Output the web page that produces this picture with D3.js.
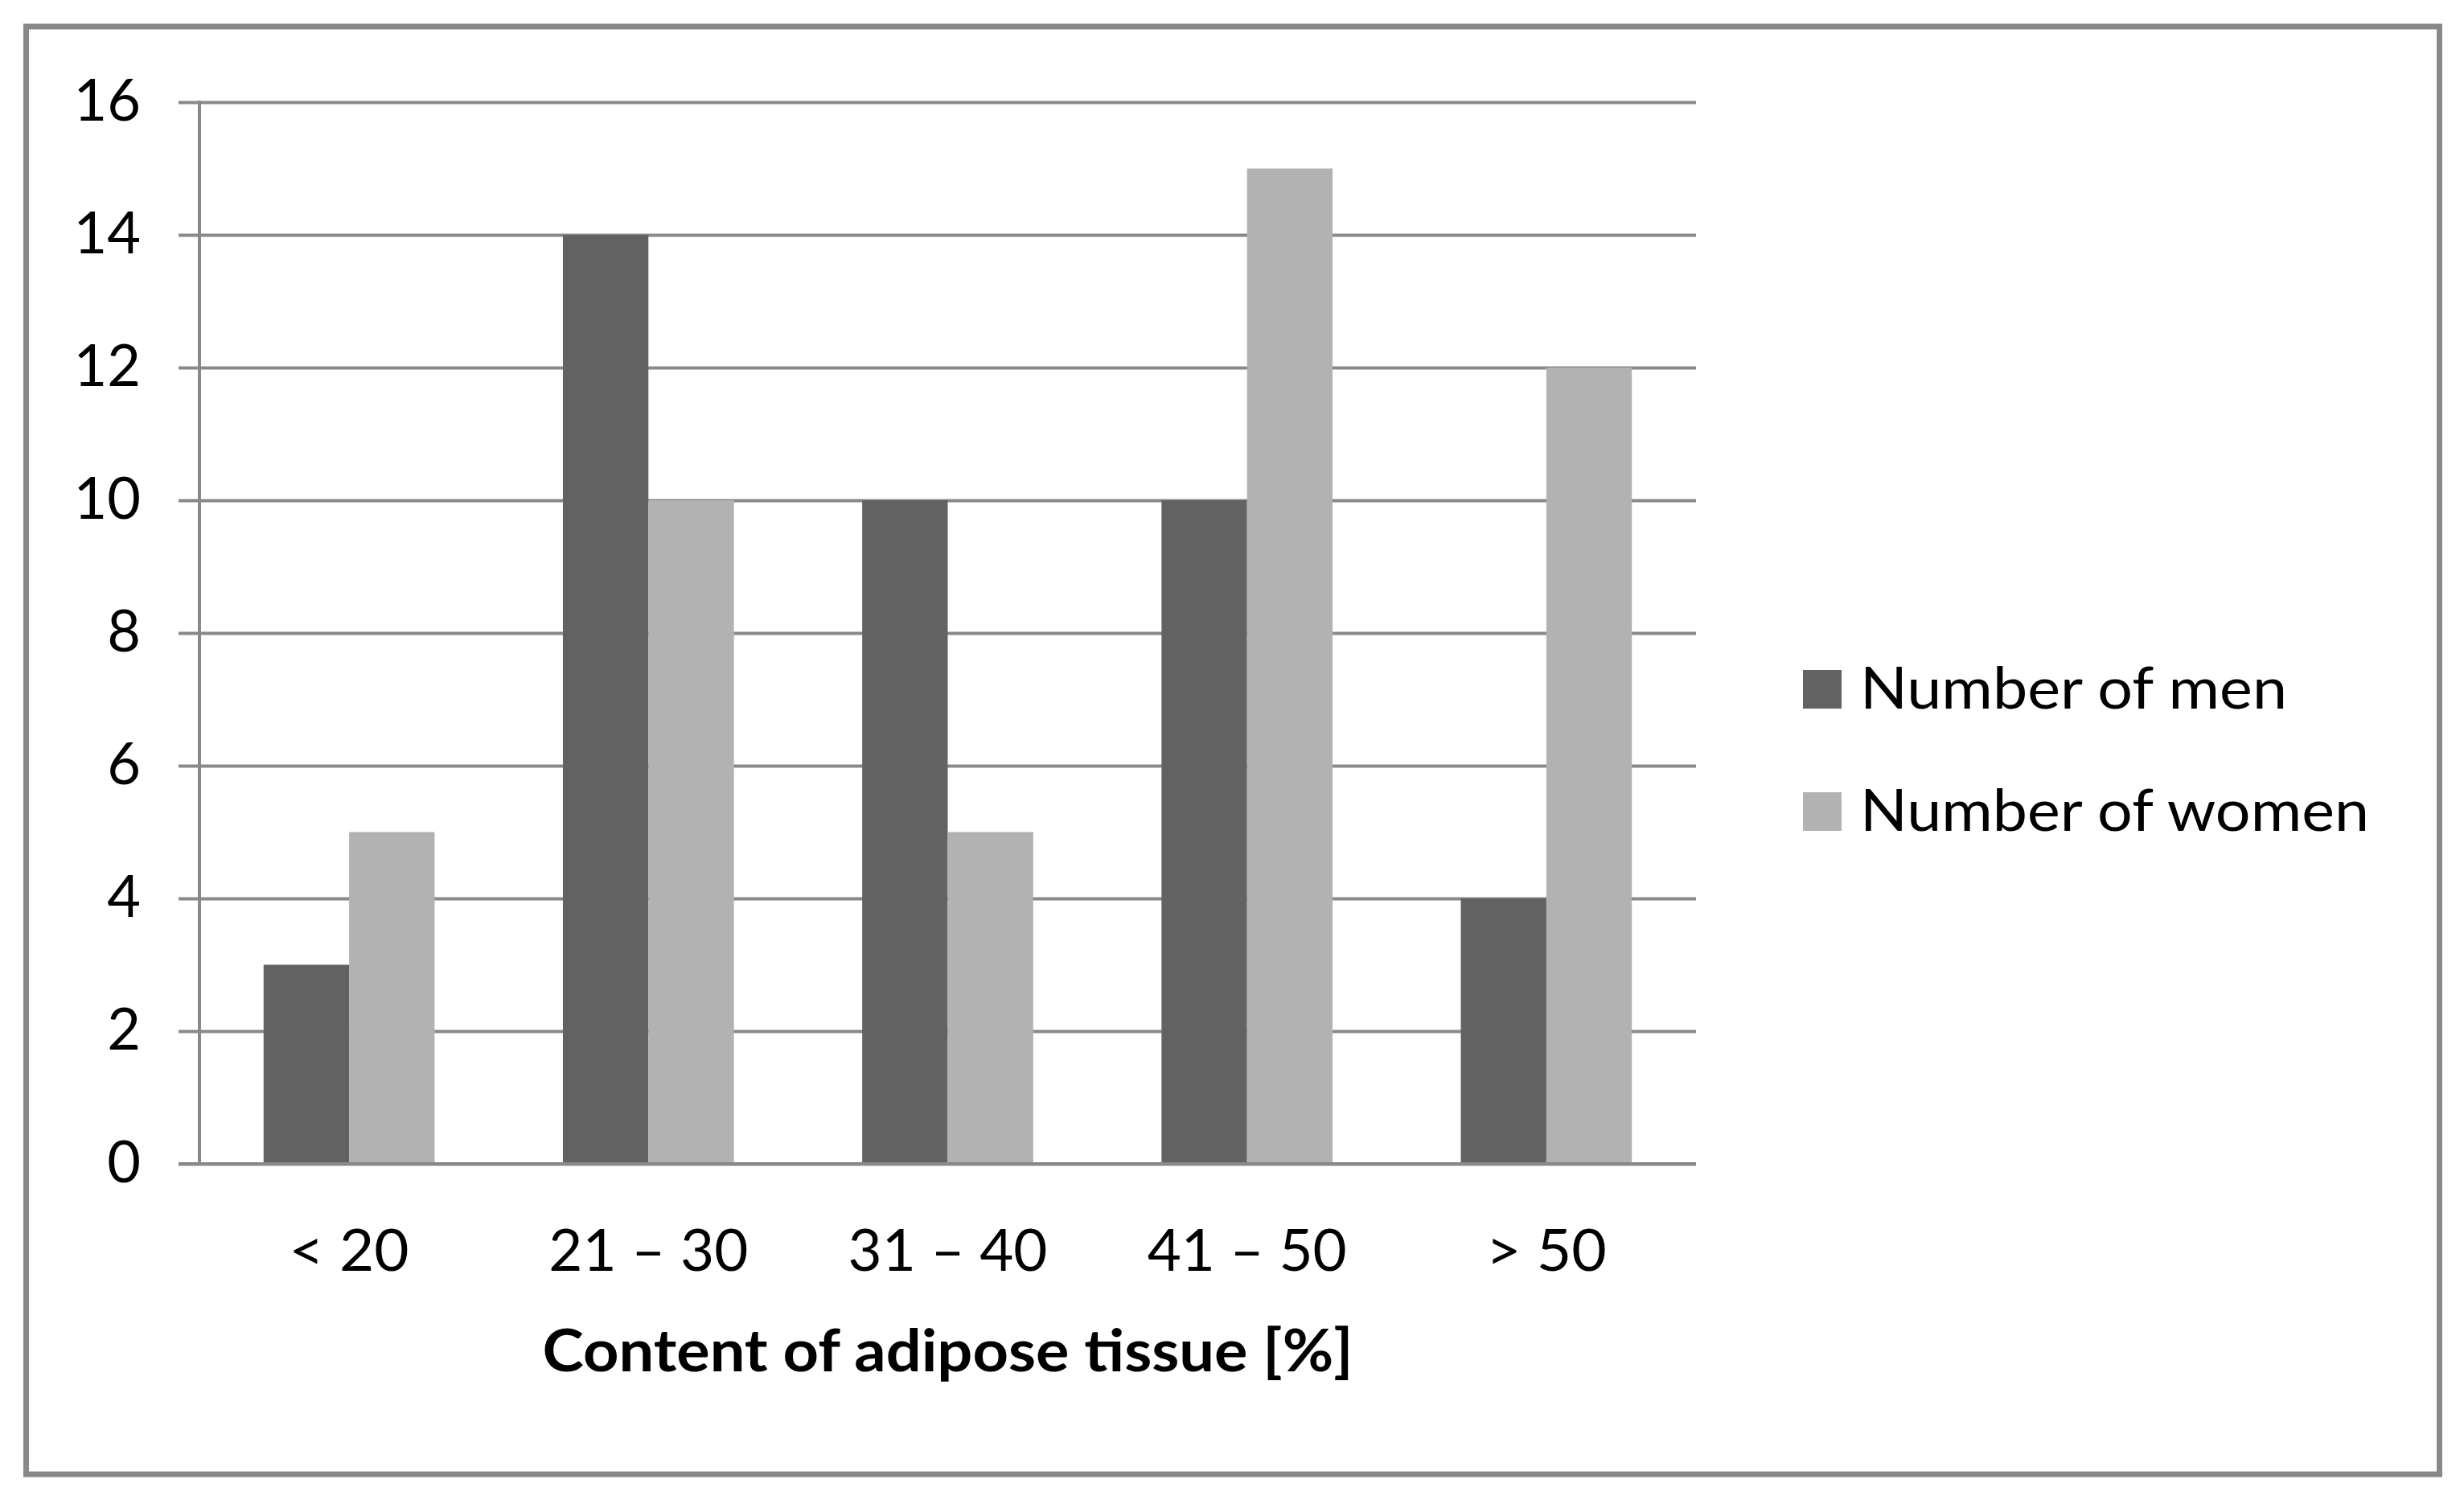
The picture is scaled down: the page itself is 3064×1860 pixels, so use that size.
<!DOCTYPE html>
<html>
<head>
<meta charset="utf-8">
<script src="https://cdn.jsdelivr.net/npm/d3@7"></script>
<style>
  html, body { margin: 0; padding: 0; background: #ffffff; }
  svg { display: block; }
  text { font-family: Lato, "Open Sans", "Noto Sans", sans-serif; fill: #000; }
</style>
</head>
<body>
<svg id="chart" width="3064" height="1860"></svg>
<script>
// ---- data ----
const categories = ["< 20", "21 – 30", "31 – 40", "41 – 50", "> 50"];
const seriesNames = ["Number of men", "Number of women"];
const menValues = [3, 14, 10, 10, 4];
const womenValues = [5, 10, 5, 15, 12];
const yTicks = [0, 2, 4, 6, 8, 10, 12, 14, 16];
const xTitle = "Content of adipose tissue [%]";
const seriesColors = ["#626262", "#b2b2b2"];

// ---- layout ----
const W = 3064, H = 1860;
const plotLeft = 248, plotRight = 2109, plotTop = 127, plotBottom = 1447;
const gridColor = "#898989";
const fontSize = 72;

const svg = d3.select("#chart");

// outer frame
svg.append("rect")
  .attr("x", 32.5).attr("y", 33).attr("width", 3001).attr("height", 1800)
  .attr("fill", "#fff").attr("stroke", "#888888").attr("stroke-width", 7);

const x = d3.scaleBand().domain(categories).range([plotLeft, plotRight]).paddingInner(0).paddingOuter(0);
const xSub = d3.scaleBand().domain(seriesNames).range([0, x.bandwidth()]).paddingInner(0).paddingOuter(0.75);
const y = d3.scaleLinear().domain([0, 16]).range([plotBottom, plotTop]);

// y axis with gridlines
const yAxis = d3.axisLeft(y)
  .tickValues(yTicks)
  .tickSizeInner(-(plotRight - plotLeft))
  .tickSizeOuter(0)
  .tickPadding(73)
  .tickFormat(d3.format("d"));

const gy = svg.append("g").attr("transform", `translate(${plotLeft},0)`).call(yAxis);
gy.select(".domain").remove();
gy.selectAll(".tick line")
  .attr("x1", -26)
  .attr("stroke", gridColor)
  .attr("stroke-width", 4);
gy.selectAll(".tick text")
  .attr("font-size", fontSize)
  .attr("dy", "0.31em")
  .style("font-family", "Lato, 'Open Sans', sans-serif");

// vertical axis line
svg.append("line")
  .attr("x1", plotLeft).attr("x2", plotLeft)
  .attr("y1", y(16) - 2).attr("y2", y(0))
  .attr("stroke", gridColor).attr("stroke-width", 4);

// bars
const rows = categories.map((c, i) => ({ cat: c, vals: [menValues[i], womenValues[i]] }));
const groups = svg.append("g").selectAll("g").data(rows).join("g")
  .attr("transform", d => `translate(${x(d.cat)},0)`);
groups.selectAll("rect")
  .data(d => d.vals.map((v, j) => ({ name: seriesNames[j], v, j })))
  .join("rect")
  .attr("x", d => xSub(d.name))
  .attr("width", xSub.bandwidth())
  .attr("y", d => y(d.v))
  .attr("height", d => y(0) - y(d.v) - 2)
  .attr("fill", d => seriesColors[d.j]);

// baseline (drawn on top)
svg.append("line")
  .attr("x1", plotLeft - 26).attr("x2", plotRight)
  .attr("y1", y(0)).attr("y2", y(0))
  .attr("stroke", gridColor).attr("stroke-width", 4);

// x axis labels
const xAxis = d3.axisBottom(x).tickSize(0).tickPadding(82);
const gx = svg.append("g").attr("transform", `translate(0,${plotBottom})`).call(xAxis);
gx.select(".domain").remove();
const xLabelWidths = [149, 248, 248, 248, 150];
gx.selectAll(".tick text")
  .attr("font-size", fontSize)
  .attr("dy", "0.71em")
  .attr("textLength", (d, i) => xLabelWidths[i])
  .attr("lengthAdjust", "spacingAndGlyphs")
  .style("font-family", "Lato, 'Open Sans', sans-serif");

// x title
svg.append("text")
  .attr("x", (plotLeft + plotRight) / 2)
  .attr("y", 1705)
  .attr("text-anchor", "middle")
  .attr("font-size", fontSize)
  .attr("font-weight", "bold")
  .attr("textLength", 1008)
  .attr("lengthAdjust", "spacingAndGlyphs")
  .text(xTitle);

// legend
const legendY = [833, 985];
const legendW = [531, 633];
const lg = svg.append("g").selectAll("g").data(seriesNames).join("g");
lg.append("rect")
  .attr("x", 2242).attr("y", (d, i) => legendY[i])
  .attr("width", 48).attr("height", 48)
  .attr("fill", (d, i) => seriesColors[i]);
lg.append("text")
  .attr("x", 2313).attr("y", (d, i) => legendY[i] + 48)
  .attr("font-size", fontSize)
  .attr("textLength", (d, i) => legendW[i])
  .attr("lengthAdjust", "spacingAndGlyphs")
  .text(d => d);
</script>
</body>
</html>
